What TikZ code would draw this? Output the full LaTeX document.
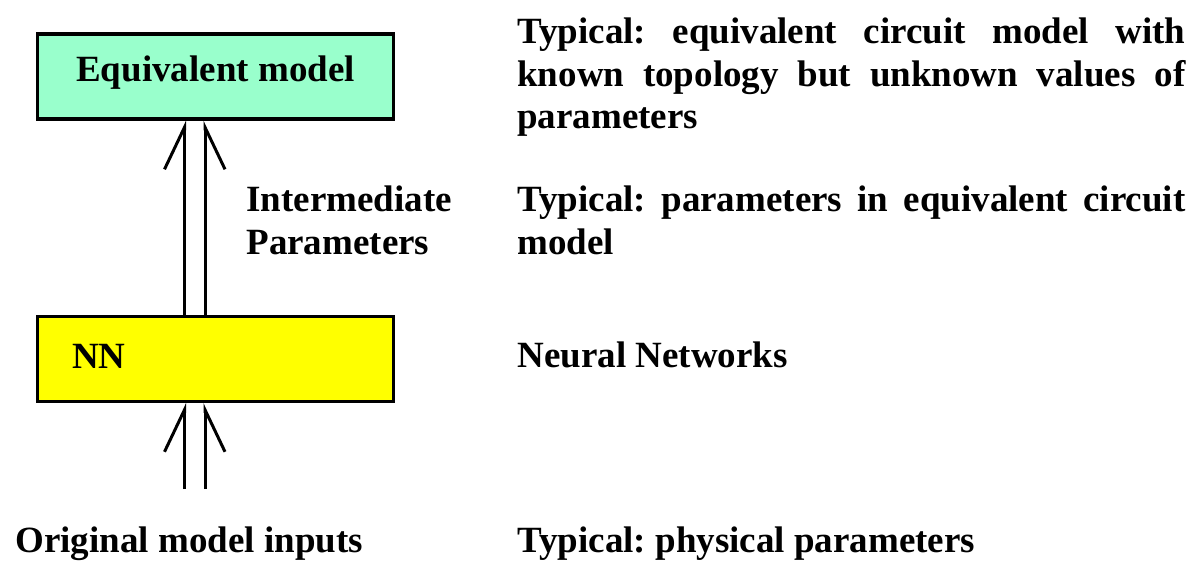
\documentclass[tikz,border=0pt]{standalone}
\usepackage{fontspec}
\setmainfont{Liberation Serif}
\usetikzlibrary{arrows.meta}
\definecolor{eqgreen}{RGB}{153,255,204}
\definecolor{nnyellow}{RGB}{255,255,0}
\hyphenpenalty=10000
\exhyphenpenalty=10000
\frenchspacing
\begin{document}
\begin{tikzpicture}[x=0.5pt, y=-0.5pt, font=\bfseries\fontsize{18.5}{21.5}\selectfont,
    blockbox/.style={draw, line width=1.65pt, minimum width=178pt, minimum height=42.5pt, inner sep=0pt, text height=12.5pt},
    note/.style={inner sep=0pt, anchor=base west},
    longnote/.style={note, align=justify, text width=334pt},
    upleft/.style={line width=1.5pt, line cap=butt, -{Straight Barb[harpoon, length=21pt, width=20pt, line cap=butt]}},
    upright/.style={line width=1.5pt, line cap=butt, -{Straight Barb[harpoon, swap, length=21pt, width=20pt, line cap=butt]}}]
        \useasboundingbox (0, 0) rectangle (1200, 562);

        % boxes
        \node[blockbox, fill=eqgreen, text depth=8pt] (eq) at (215.5, 76.5) {Equivalent model};
        \node[blockbox, fill=nnyellow, text depth=3.5pt, inner xsep=17.25pt, text width=143.5pt, align=left] (nn) at (215.5, 359) {NN};

        % inputs
        \coordinate (inl) at (184.5, 489);
        \coordinate (inr) at (205, 489);

        % double arrows
        \draw[upleft] (inl) -- (inl |- nn.south);
        \draw[upright] (inr) -- (inr |- nn.south);
        \draw[upleft] (inl |- nn.north) -- (inl |- eq.south);
        \draw[upright] (inr |- nn.north) -- (inr |- eq.south);

        % left labels
        \node[note, align=left] (mid) at (246, 254) {Intermediate\\Parameters};
        \node[note] (orig) at (15, 552) {Original model inputs};

        % right column
        \node[longnote] (typeq) at (517, 43) {Typical: equivalent circuit model with known topology but unknown values of parameters};
        \node[longnote] (typpar) at (517, 211) {Typical: parameters in equivalent circuit model};
        \node[note] (neural) at (517, 367) {Neural Networks};
        \node[note] (typphys) at (517, 552) {Typical: physical parameters};
    \end{tikzpicture}
\end{document}
